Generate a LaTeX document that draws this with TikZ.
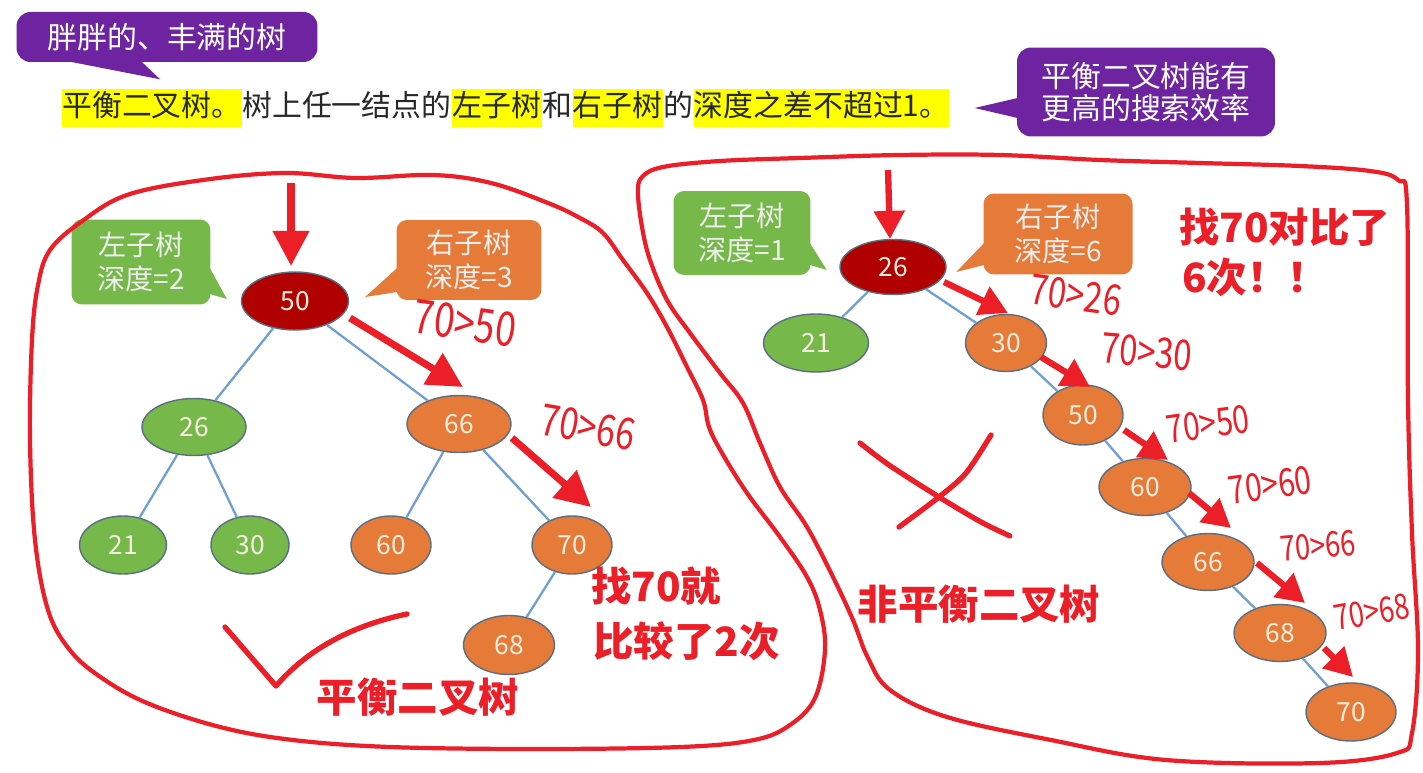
\documentclass[tikz,border=0pt]{standalone}
\usepackage{fontspec}
\setmainfont{Noto Sans CJK SC}
\newfontfamily\handfont{Noto Sans CJK SC}[FakeStretch=0.78]
\usetikzlibrary{shapes, arrows.meta, calc, positioning}
\definecolor{bubblepurple}{RGB}{110,36,160}
\definecolor{leafgreen}{RGB}{118,184,74}
\definecolor{leaforange}{RGB}{230,122,56}
\definecolor{rootred}{RGB}{176,0,0}
\definecolor{edgeblue}{RGB}{110,160,210}
\definecolor{nodeline}{RGB}{90,110,130}
\definecolor{nodelabel}{RGB}{246,238,224}
\definecolor{bubbletext}{RGB}{238,238,238}
\definecolor{penred}{RGB}{236,30,40}
\definecolor{marker}{RGB}{255,255,0}
\definecolor{inktext}{RGB}{40,40,40}
\tikzset{treenode/.style={ellipse, inner sep=0pt, draw=nodeline, line width=0.8pt, text=nodelabel, minimum height=1.16cm, font=\fontsize{15}{15}\selectfont}}
\tikzset{rootnode/.style={treenode, fill=rootred}}
\tikzset{greennode/.style={treenode, fill=leafgreen}}
\tikzset{orangenode/.style={treenode, fill=leaforange}}
\tikzset{treeedge/.style={draw=edgeblue, line width=1.3pt}}
\tikzset{bubble/.style={fill=bubblepurple, rounded corners=8pt, text=white, align=center, inner sep=0pt, font=\fontsize{17}{18}\selectfont}}
\tikzset{tagbox/.style={rounded corners=6pt, text=bubbletext, align=center, inner sep=0pt, font=\fontsize{16}{19}\selectfont}}
\tikzset{textpart/.style={inner xsep=0pt, inner ysep=2.5pt, text=inktext, text height=13pt, text depth=3.5pt, font=\fontsize{17}{17}\selectfont}}
\tikzset{marked/.style={textpart, fill=marker}}
\tikzset{bigarrow/.style={penred, line width=4pt, -{Triangle[length=20pt, width=20pt]}}}
\tikzset{redarrow/.style={penred, line width=3.6pt, -{Triangle[length=16pt, width=17pt]}}}
\tikzset{penline/.style={penred, line width=2.4pt, line cap=round, line join=round}}
\tikzset{handnote/.style={text=penred, inner sep=0pt, font=\handfont\fontsize{#1}{#1}\selectfont}, handnote/.default=22}
\tikzset{boldnote/.style={text=penred, inner sep=0pt, font=\fontsize{23}{23}\selectfont\bfseries}}

\begin{document}
\begin{tikzpicture}[x=0.02cm, y=-0.02cm]
\fill[white] (0,0) rectangle (1423,773);
\useasboundingbox (0,0) rectangle (1423,773);

% bubbles and definition line
\node[bubble, minimum width=6.02cm, minimum height=1.0cm] (B1) at (167,37) {胖胖的、丰满的树};
\fill[bubblepurple] ($(B1.south west)+(52,-1)$) -- ($(B1.south west)+(144,17)$) -- ($(B1.south west)+(125,-1)$) -- cycle;
\node[bubble, minimum width=5.16cm, minimum height=1.78cm] (B2) at (1146,92) {平衡二叉树能有\\更高的搜索效率};
\fill[bubblepurple] ($(B2.west)+(1,6)$) -- ($(B2.west)+(-42,16)$) -- ($(B2.west)+(1,26)$) -- cycle;

\node[marked, anchor=west] (T1) at (62,108) {平衡二叉树。};
\node[textpart, right=0pt of T1] (T2) {树上任一结点的};
\node[marked, right=0pt of T2] (T3) {左子树};
\node[textpart, right=0pt of T3] (T4) {和};
\node[marked, right=0pt of T4] (T5) {右子树};
\node[textpart, right=0pt of T5] (T6) {的};
\node[marked, right=0pt of T6] (T7) {深度之差不超过1。};

% balanced tree
\node[rootnode, minimum width=2.14cm] (P50) at (295,301) {50};
\node[greennode, minimum width=2.08cm, minimum height=1.14cm] (P26) at (194,427) {26};
\node[orangenode, minimum width=2.08cm, minimum height=1.14cm] (P66) at (459,424) {66};
\node[greennode, minimum width=1.74cm] (P21) at (123,545) {21};
\node[greennode, minimum width=1.56cm] (P30) at (250,545) {30};
\node[orangenode, minimum width=1.6cm] (P60) at (391,545) {60};
\node[orangenode, minimum width=1.6cm] (P70) at (572,545) {70};
\node[orangenode, minimum width=1.82cm, minimum height=1.18cm] (P68) at (509,645) {68};
\draw[treeedge] (P50) -- (P26);
\draw[treeedge] (P50) -- (P66);
\draw[treeedge] (P26) -- (P21);
\draw[treeedge] (P26) -- (P30);
\draw[treeedge] (P66) -- (P60);
\draw[treeedge] (P66) -- (P70);
\draw[treeedge] (P70) -- (P68);

\node[tagbox, fill=leafgreen, minimum width=2.78cm, minimum height=1.7cm] (PL) at (141,262) {左子树\\深度=2};
\fill[leafgreen] ($(PL.east)+(-1,6)$) -- ($(PL.east)+(16,37)$) -- ($(PL.east)+(-1,32)$) -- cycle;
\node[tagbox, fill=leaforange, minimum width=2.9cm, minimum height=1.6cm] (PR) at (469,260) {右子树\\深度=3};
\fill[leaforange] ($(PR.west)+(1,8)$) -- ($(PR.west)+(-31,37)$) -- ($(PR.west)+(1,32)$) -- cycle;

\draw[bigarrow] ($(P50)+(-4,-118)$) -- ($(P50)+(-4,-35)$);
\draw[bigarrow] ($(P50)+(55,17)$) -- ($(P66)+(4,-37)$);
\draw[bigarrow] ($(P66)+(53,14)$) -- ($(P70)+(19,-38)$);
\node[handnote=27, rotate=-8] (H1) at (465,323) {70>50};
\node[handnote=25, rotate=-10] (H2) at (588,427) {70>66};

% unbalanced tree
\node[rootnode, minimum width=2.12cm, minimum height=1.1cm] (Q26) at (893,267) {26};
\node[greennode, minimum width=2.1cm] (Q21) at (816,343) {21};
\node[orangenode, minimum width=1.62cm, minimum height=1.14cm] (Q30) at (1006,343) {30};
\node[orangenode, minimum width=1.6cm, minimum height=1.2cm] (Q50) at (1083,415) {50};
\node[orangenode, minimum width=1.84cm, minimum height=1.14cm] (Q60) at (1145,487) {60};
\node[orangenode, minimum width=1.84cm, minimum height=1.14cm] (Q66) at (1208,562) {66};
\node[orangenode, minimum width=1.84cm, minimum height=1.14cm] (Q68) at (1280,633) {68};
\node[orangenode, minimum width=1.8cm] (Q70) at (1351,712) {70};
\draw[treeedge] (Q26) -- (Q21);
\draw[treeedge] (Q26) -- (Q30);
\draw[treeedge] (Q30) -- (Q50);
\draw[treeedge] (Q50) -- (Q60);
\draw[treeedge] (Q60) -- (Q66);
\draw[treeedge] (Q66) -- (Q68);
\draw[treeedge] (Q68) -- (Q70);

\node[tagbox, fill=leafgreen, minimum width=2.74cm, minimum height=1.68cm] (QL) at (742,233) {左子树\\深度=1};
\fill[leafgreen] ($(QL.east)+(-1,10)$) -- ($(QL.east)+(16,37)$) -- ($(QL.east)+(-1,32)$) -- cycle;
\node[tagbox, fill=leaforange, minimum width=2.98cm, minimum height=1.62cm] (QR) at (1058,234) {右子树\\深度=6};
\fill[leaforange] ($(QR.west)+(1,9)$) -- ($(QR.west)+(-27,38)$) -- ($(QR.west)+(1,31)$) -- cycle;

\draw[redarrow] ($(Q26)+(-5,-97)$) -- ($(Q26)+(-3,-28)$);
\draw[redarrow] ($(Q26)+(51,15)$) -- ($(Q30)+(2,-30)$);
\draw[redarrow] ($(Q30)+(35,14)$) -- ($(Q50)+(7,-28)$);
\draw[redarrow] ($(Q50)+(41,15)$) -- ($(Q60)+(23,-27)$);
\draw[redarrow] ($(Q60)+(44,6)$) -- ($(Q66)+(23,-34)$);
\draw[redarrow] ($(Q66)+(49,1)$) -- ($(Q68)+(25,-30)$);
\draw[redarrow] ($(Q68)+(44,15)$) -- ($(Q70)+(2,-35)$);
\node[handnote=24, rotate=-8] (H3) at (1076,295) {70>26};
\node[handnote=24, rotate=-5] (H4) at (1147,352) {70>30};
\node[handnote=22, rotate=8] (H5) at (1208,424) {70>50};
\node[handnote=22, rotate=8] (H6) at (1270,485) {70>60};
\node[handnote=20, rotate=5] (H7) at (1318,546) {70>66};
\node[handnote=20, rotate=10] (H8) at (1372,612) {70>68};

% pen marks
\draw[penline] plot[smooth cycle, tension=0.6] coordinates {(50,250) (81,222) (127,195) (203,180) (284,173) (356,178) (433,175) (491,183) (548,203) (580,218) (603,233) (623,260) (647,293) (667,327) (687,367) (703,400) (709,427) (722,453) (747,493) (780,537) (807,577) (820,610) (825,650) (815,698) (790,725) (754,740) (681,747) (535,749) (390,747) (293,740) (220,727) (147,703) (99,676) (69,649) (48,610) (35,540) (30,440) (32,340) (38,285)};
\draw[penline] plot[smooth cycle, tension=0.6] coordinates {(663,167) (720,161) (800,158) (900,155) (1000,155) (1100,160) (1200,163) (1300,166) (1370,171) (1398,180) (1407,205) (1408,400) (1412,533) (1418,650) (1412,733) (1397,753) (1320,763) (1166,760) (1051,740) (947,717) (890,690) (868,658) (853,620) (833,577) (807,527) (780,487) (760,443) (743,403) (720,373) (690,333) (667,300) (650,260) (642,227) (638,193) (642,177)};
\draw[penline, line width=3pt] (225,627) -- (276,686) .. controls (300,658) and (340,628) .. (407,614);
\draw[penline, line width=3pt] plot[smooth] coordinates {(860,443) (889,465) (939,497) (981,522) (1010,536)};
\draw[penline, line width=3pt] plot[smooth] coordinates {(899,527) (939,497) (966,473) (991,435)};

\node[boldnote, anchor=west] (F1) at (591,586) {找70就};
\node[boldnote, anchor=west] (F2) at (593,641) {比较了2次};
\node[boldnote] (F3) at (418,697) {平衡二叉树};
\node[boldnote] (F4) at (979,604) {非平衡二叉树};
\node[boldnote, anchor=west] (F5) at (1179,227) {找70对比了};
\node[boldnote, anchor=west] (F6) at (1182,277) {6次！！};
\end{tikzpicture}
\end{document}
